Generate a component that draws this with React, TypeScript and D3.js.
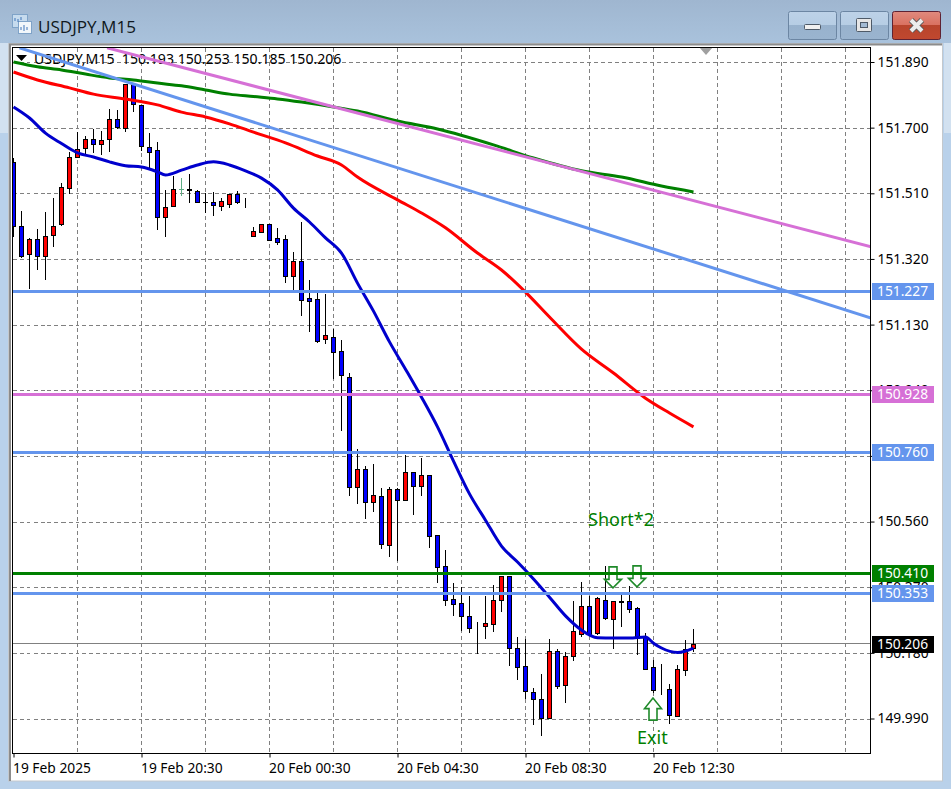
import React, { useEffect, useRef } from "react";
import * as d3 from "d3";

// USDJPY M15 candles, one entry per bar
const opens = [
  151.601, 151.415, 151.334, 151.378, 151.328, 151.389, 151.421, 151.525, 151.615, 151.641,
  151.667, 151.653, 151.667, 151.725, 151.699, 151.826, 151.766, 151.644, 151.635, 151.441,
  151.473, 151.522, 151.521, 151.517, 151.485, 151.485, 151.473, 151.479, 151.508, 151.486,
  151.386, 151.398, 151.421, 151.381, 151.378, 151.271, 151.314, 151.206, 151.203, 151.087,
  151.095, 151.054, 150.979, 150.66, 150.711, 150.616, 150.633, 150.491, 150.653, 150.623,
  150.702, 150.662, 150.694, 150.52, 150.43, 150.335, 150.323, 150.288, 150.256, 150.258,
  150.264, 150.332, 150.401, 150.193, 150.141, 150.068, 150.045, 149.992, 150.184, 150.088,
  150.172, 150.235, 150.315, 150.238, 150.332, 150.277, 150.329, 150.329, 150.309, 150.227,
  150.138, 150.076, 150.074, 149.998, 150.129, 150.193,
];
const highs = [
  151.615, 151.462, 151.383, 151.41, 151.459, 151.499, 151.543, 151.632, 151.69, 151.679,
  151.699, 151.693, 151.757, 151.754, 151.826, 151.826, 151.766, 151.687, 151.661, 151.522,
  151.563, 151.557, 151.569, 151.521, 151.514, 151.517, 151.499, 151.511, 151.52, 151.499,
  151.415, 151.423, 151.423, 151.412, 151.392, 151.343, 151.43, 151.262, 151.233, 151.221,
  151.12, 151.088, 150.993, 150.773, 150.724, 150.729, 150.66, 150.663, 150.661, 150.755,
  150.706, 150.748, 150.695, 150.524, 150.482, 150.384, 150.373, 150.347, 150.272, 150.347,
  150.379, 150.405, 150.405, 150.23, 150.223, 150.08, 150.121, 150.222, 150.193, 150.184,
  150.333, 150.388, 150.347, 150.345, 150.434, 150.333, 150.358, 150.376, 150.317, 150.239,
  150.162, 150.15, 150.093, 150.148, 150.22, 150.253,
];
const lows = [
  151.386, 151.326, 151.236, 151.291, 151.262, 151.357, 151.418, 151.511, 151.614, 151.627,
  151.63, 151.624, 151.632, 151.699, 151.69, 151.748, 151.635, 151.583, 151.407, 151.386,
  151.473, 151.505, 151.485, 151.484, 151.456, 151.447, 151.462, 151.47, 151.482, 151.47,
  151.386, 151.398, 151.375, 151.363, 151.253, 151.233, 151.158, 151.112, 151.08, 151.077,
  150.975, 150.825, 150.637, 150.614, 150.571, 150.591, 150.484, 150.461, 150.449, 150.622,
  150.582, 150.637, 150.487, 150.386, 150.318, 150.289, 150.246, 150.24, 150.179, 150.224,
  150.244, 150.301, 150.145, 150.103, 150.05, 149.974, 149.942, 149.991, 150.079, 150.038,
  150.159, 150.23, 150.232, 150.234, 150.277, 150.195, 150.258, 150.297, 150.177, 150.132,
  150.066, 150.061, 149.978, 149.997, 150.117, 150.185,
];
const closes = [
  151.415, 151.328, 151.378, 151.328, 151.386, 151.415, 151.528, 151.615, 151.638, 151.667,
  151.653, 151.664, 151.725, 151.702, 151.826, 151.767, 151.647, 151.63, 151.441, 151.47,
  151.522, 151.522, 151.519, 151.485, 151.485, 151.477, 151.488, 151.508, 151.485, 151.484,
  151.401, 151.421, 151.375, 151.369, 151.271, 151.314, 151.201, 151.199, 151.083, 151.099,
  151.05, 150.984, 150.659, 150.712, 150.616, 150.636, 150.494, 150.653, 150.623, 150.702,
  150.662, 150.694, 150.519, 150.429, 150.334, 150.322, 150.287, 150.253, 150.254, 150.265,
  150.332, 150.401, 150.193, 150.14, 150.071, 150.047, 149.992, 150.184, 150.085, 150.17,
  150.242, 150.315, 150.235, 150.338, 150.28, 150.329, 150.327, 150.306, 150.224, 150.134,
  150.073, 150.074, 149.999, 150.132, 150.192, 150.206,
];

// moving averages, read at these bars
const fastBars = [0, 2, 4, 6, 8, 10, 12, 14, 16, 18, 19, 21, 23, 25, 27, 29, 31, 33, 35, 37, 39, 41, 43, 45, 47, 49, 51, 53, 55, 57, 59, 61, 63, 65, 67, 69, 71, 73, 75, 77, 79, 80, 81, 83, 85];
const fastMa = [
  151.76, 151.728, 151.684, 151.654, 151.627, 151.615, 151.601, 151.59, 151.586, 151.572, 151.563,
  151.577, 151.592, 151.601, 151.592, 151.575, 151.554, 151.52, 151.467, 151.427, 151.381, 151.337,
  151.25, 151.169, 151.08, 151.001, 150.92, 150.834, 150.735, 150.64, 150.564, 150.489, 150.443,
  150.394, 150.341, 150.287, 150.246, 150.224, 150.223, 150.223, 150.226, 150.208, 150.194, 150.181, 150.194,
];
const midBars = [0, 3, 7, 10, 14, 18, 21, 24, 27, 30, 34, 38, 41, 43, 48, 51, 54, 58, 61, 64, 67, 71, 75, 79, 82, 85];
const midMa = [
  151.861, 151.838, 151.815, 151.797, 151.783, 151.766, 151.745, 151.731, 151.711, 151.687, 151.656, 151.618, 151.592,
  151.557, 151.491, 151.453, 151.41, 151.337, 151.288, 151.224, 151.152, 151.059, 150.99, 150.917, 150.874, 150.834,
];
const slowBars = [0, 3, 6, 9, 12, 15, 18, 21, 24, 27, 30, 33, 36, 40, 43, 48, 53, 60, 65, 71, 76, 81, 85];
const slowMa = [
  151.89, 151.876, 151.867, 151.855, 151.844, 151.838, 151.829, 151.821, 151.809, 151.797, 151.79, 151.783,
  151.774, 151.76, 151.748, 151.719, 151.696, 151.65, 151.612, 151.575, 151.557, 151.531, 151.514,
];

// trend lines: bar, price at both ends
const pinkTrendBars = [11.7, 107.2];
const pinkTrendPrices = [151.931, 151.355];
const blueTrendBars = [0.75, 107.2];
const blueTrendPrices = [151.931, 151.149];

// horizontal levels with their tag on the price axis
const levelPrices = [151.227, 150.928, 150.76, 150.41, 150.353];
const levelKinds = ["blue", "pink", "blue", "green", "blue"];
const lastPrice = 150.206;

const priceTicks = [151.89, 151.7, 151.51, 151.32, 151.13, 150.94, 150.75, 150.56, 150.37, 150.18, 149.99];
const gridBars = [8, 16, 24, 32, 40, 48, 56, 64, 72, 80, 88, 96, 104];
const timeBars = [0, 16, 32, 48, 64, 80];
const timeLabels = ["19 Feb 2025", "19 Feb 20:30", "20 Feb 00:30", "20 Feb 04:30", "20 Feb 08:30", "20 Feb 12:30"];

// arrow objects placed on the chart: bar, tip price
const downArrowBars = [75, 78];
const downArrowPrices = [150.368, 150.371];
const upArrowBars = [80];
const upArrowPrices = [150.049];

const colors: Record<string, string> = {
  blue: "#6495ed",
  pink: "#d670d6",
  green: "#008000",
};
const FONT = "'Noto Sans', sans-serif";

const App: React.FC = () => {
  const svgRef = useRef<SVGSVGElement | null>(null);

  useEffect(() => {
    if (!svgRef.current) return;
    const svg = d3.select(svgRef.current);
    svg.selectAll("*").remove();

    const left = 12.5;
    const right = 870.5;
    const top = 47.5;
    const bottom = 753.5;

    const x = d3.scaleLinear().domain([0, 1]).range([13.5, 21.5]);
    const y = d3.scaleLinear().domain([151.89, 149.99]).range([62, 718.5]);

    const defs = svg.append("defs");
    const gradient = (id: string, stops: [number, string][]) => {
      const g = defs.append("linearGradient").attr("id", id).attr("x1", 0).attr("x2", 0).attr("y1", 0).attr("y2", 1);
      stops.forEach(([o, c]) => g.append("stop").attr("offset", o).attr("stop-color", c));
    };
    gradient("titleBar", [[0, "#9fb6d0"], [1, "#a9c2dc"]]);
    gradient("btn", [[0, "#bdd2e8"], [0.5, "#b6cde4"], [0.5, "#98b2cd"], [1, "#9ab4cf"]]);
    gradient("closeBtn", [[0, "#e08a7e"], [0.5, "#d9705f"], [0.5, "#b8442c"], [1, "#c0482f"]]);
    defs.append("clipPath").attr("id", "plot").append("rect")
      .attr("x", left).attr("y", top).attr("width", right - left).attr("height", bottom - top);

    // window chrome
    svg.append("rect").attr("width", 951).attr("height", 789).attr("fill", "#b9d1ea");
    svg.append("rect").attr("width", 951).attr("height", 43).attr("fill", "url(#titleBar)");
    svg.append("rect").attr("y", 43).attr("width", 8).attr("height", 90).attr("fill", "#d2e1f0");
    svg.append("rect").attr("x", 944).attr("y", 43).attr("width", 7).attr("height", 90).attr("fill", "#d2e1f0");
    svg.append("rect").attr("x", 8.5).attr("y", 43.5).attr("width", 934).attr("height", 737.5)
      .attr("fill", "#fff").attr("stroke", "#c4c8cc");
    svg.append("path").attr("d", "M10,781V44.5H942").attr("fill", "none").attr("stroke", "#8c8c8c").attr("stroke-width", 2);

    // title icon
    const icon = svg.append("g");
    icon.append("rect").attr("x", 12.5).attr("y", 14.5).attr("width", 15).attr("height", 13)
      .attr("fill", "#c6dbee").attr("stroke", "#7fa3c8");
    icon.append("rect").attr("x", 18.5).attr("y", 21.5).attr("width", 13).attr("height", 12)
      .attr("fill", "#f2f7fb").attr("stroke", "#7fa3c8");
    icon.append("path").attr("d", "M21,30V27M24,31V25M27,30V27").attr("stroke", "#3f74b8");
    icon.append("path").attr("d", "M15,21V18M18,22V19M21,20V17").attr("stroke", "#3f74b8");
    svg.append("text").attr("x", 38).attr("y", 33).attr("font-family", "'Open Sans', sans-serif")
      .attr("font-size", 17.1).attr("fill", "#101820").text("USDJPY,M15");

    // window buttons
    const button = (bx: number, fill: string, stroke: string) =>
      svg.append("rect").attr("x", bx + 0.5).attr("y", 11.5).attr("width", 48).attr("height", 28).attr("rx", 2)
        .attr("fill", fill).attr("stroke", stroke);
    button(788, "url(#btn)", "#6c86a3");
    button(840, "url(#btn)", "#6c86a3");
    button(892, "url(#closeBtn)", "#5e2233");
    svg.append("rect").attr("x", 804.5).attr("y", 24.5).attr("width", 16).attr("height", 5).attr("rx", 1)
      .attr("fill", "#f0f0f0").attr("stroke", "#4e5a68");
    svg.append("rect").attr("x", 856.5).attr("y", 18.5).attr("width", 15).attr("height", 13).attr("rx", 1)
      .attr("fill", "#e6e6e6").attr("stroke", "#4e5a68");
    svg.append("rect").attr("x", 860.5).attr("y", 22.5).attr("width", 7).attr("height", 5)
      .attr("fill", "#a3bbd4").attr("stroke", "#4e5a68");
    svg.append("path").attr("d", "M911,20L922,31M922,20L911,31").attr("stroke", "#5a5a5a").attr("stroke-width", 6);
    svg.append("path").attr("d", "M911,20L922,31M922,20L911,31").attr("stroke", "#ececec").attr("stroke-width", 4);

    // grid
    const grid = svg.append("g").attr("stroke", "#808080").attr("stroke-dasharray", "4 3").attr("shape-rendering", "crispEdges");
    grid.selectAll("line.h").data(priceTicks).join("line").attr("class", "h")
      .attr("x1", left).attr("x2", right).attr("y1", d => Math.round(y(d)) + 0.5).attr("y2", d => Math.round(y(d)) + 0.5);
    grid.selectAll("line.v").data(gridBars).join("line").attr("class", "v")
      .attr("x1", d => x(d)).attr("x2", d => x(d)).attr("y1", top).attr("y2", bottom);

    // last price line
    svg.append("line").attr("x1", left).attr("x2", right).attr("y1", Math.round(y(lastPrice)) - 0.5).attr("y2", Math.round(y(lastPrice)) - 0.5)
      .attr("stroke", "#808080").attr("shape-rendering", "crispEdges");

    // header
    svg.append("path").attr("d", "M16,55H27L21.5,61Z").attr("fill", "#000");
    svg.append("text").attr("x", 34).attr("y", 64).attr("font-family", FONT).attr("font-size", 14.1)
      .attr("fill", "#000").attr("xml:space", "preserve")
      .text(`USDJPY,M15  ${opens[85].toFixed(3)} ${highs[85].toFixed(3)} ${lows[85].toFixed(3)} ${closes[85].toFixed(3)}`);
    svg.append("path").attr("d", "M699,47H713L706,55Z").attr("fill", "#a0a0a0");

    const plot = svg.append("g").attr("clip-path", "url(#plot)");

    // candles
    const candles = plot.append("g").attr("shape-rendering", "crispEdges");
    const idx = d3.range(opens.length);
    const snap = (p: number) => Math.round(y(p)) + 0.5;
    const mutedBar = 21; // this doji is drawn pale green in the terminal
    candles.selectAll("line.wick").data(idx).join("line").attr("class", "wick")
      .attr("x1", i => x(i)).attr("x2", i => x(i))
      .attr("y1", i => snap(highs[i])).attr("y2", i => snap(lows[i]))
      .attr("stroke", i => (i === mutedBar ? "#5fae85" : "#000"));
    candles.selectAll("line.doji").data(idx.filter(i => opens[i] === closes[i])).join("line").attr("class", "doji")
      .attr("x1", i => x(i) - 2.5).attr("x2", i => x(i) + 2.5)
      .attr("y1", i => snap(closes[i])).attr("y2", i => snap(closes[i]))
      .attr("stroke", i => (i === mutedBar ? "#5fae85" : "#000"));
    candles.selectAll("rect").data(idx.filter(i => opens[i] !== closes[i])).join("rect")
      .attr("x", i => x(i) - 2).attr("width", 4)
      .attr("y", i => snap(Math.max(opens[i], closes[i])))
      .attr("height", i => snap(Math.min(opens[i], closes[i])) - snap(Math.max(opens[i], closes[i])))
      .attr("fill", i => (closes[i] > opens[i] ? "#ff0000" : "#0000ff"))
      .attr("stroke", "#000");

    // arrow objects
    const arrows = plot.append("g").attr("fill", "#fff").attr("stroke", "#1f8a2a").attr("stroke-width", 1.6);
    arrows.selectAll("path.down").data(downArrowBars).join("path").attr("class", "down")
      .attr("d", (b, k) => {
        const cx = x(b) - 0.5;
        const tip = y(downArrowPrices[k]);
        return `M${cx},${tip}L${cx - 8.5},${tip - 8.5}H${cx - 4}V${tip - 21}H${cx + 4}V${tip - 8.5}H${cx + 8.5}Z`;
      });
    arrows.selectAll("path.up").data(upArrowBars).join("path").attr("class", "up")
      .attr("d", (b, k) => {
        const cx = x(b) - 0.5;
        const tip = y(upArrowPrices[k]);
        return `M${cx},${tip}L${cx - 8.5},${tip + 10.5}H${cx - 4}V${tip + 22}H${cx + 4}V${tip + 10.5}H${cx + 8.5}Z`;
      });

    // labels on the chart
    plot.append("text").attr("x", x(72) - 1.5).attr("y", y(150.547)).attr("font-family", FONT).attr("font-size", 18)
      .attr("fill", "#008000").text("Short*2");
    plot.append("text").attr("x", x(78) - 0.5).attr("y", y(149.916)).attr("font-family", FONT).attr("font-size", 18)
      .attr("fill", "#008000").text("Exit");

    // moving averages
    const line = d3.line<[number, number]>().x(d => x(d[0])).y(d => y(d[1])).curve(d3.curveMonotoneX);
    const drawSeries = (bars: number[], values: number[], color: string, width: number) =>
      plot.append("path").attr("d", line(bars.map((b, k) => [b, values[k]] as [number, number])))
        .attr("fill", "none").attr("stroke", color).attr("stroke-width", width);
    drawSeries(slowBars, slowMa, "#008000", 3);
    drawSeries(midBars, midMa, "#ff0000", 3);
    drawSeries(fastBars, fastMa, "#0000cd", 3);

    // trend lines
    drawSeries(pinkTrendBars, pinkTrendPrices, colors.pink, 3);
    drawSeries(blueTrendBars, blueTrendPrices, colors.blue, 3);

    // horizontal levels
    plot.selectAll("line.level").data(levelPrices).join("line").attr("class", "level")
      .attr("x1", left).attr("x2", right).attr("y1", d => y(d)).attr("y2", d => y(d))
      .attr("stroke", (_, k) => colors[levelKinds[k]]).attr("stroke-width", 3).attr("shape-rendering", "crispEdges");

    // frame
    svg.append("rect").attr("x", left).attr("y", top).attr("width", right - left).attr("height", bottom - top)
      .attr("fill", "none").attr("stroke", "#000").attr("shape-rendering", "crispEdges");

    // price axis
    const priceAxis = d3.axisRight(y).tickValues(priceTicks).tickSize(4).tickPadding(3).tickFormat(d3.format(".3f") as any);
    const pg = svg.append("g").attr("transform", `translate(${right},0)`).call(priceAxis);
    pg.select(".domain").remove();
    pg.selectAll("text").attr("font-family", FONT).attr("font-size", 13.8).attr("fill", "#000");
    pg.selectAll("line").attr("stroke", "#000");

    // time axis
    const timeAxis = d3.axisBottom(x).tickValues(timeBars).tickSize(4).tickPadding(6)
      .tickFormat((_, k) => timeLabels[k]);
    const tg = svg.append("g").attr("transform", `translate(0,${bottom})`).call(timeAxis);
    tg.select(".domain").remove();
    tg.selectAll("text").attr("font-family", FONT).attr("font-size", 13.8).attr("fill", "#000")
      .attr("text-anchor", "start").attr("dx", -1);
    tg.selectAll("line").attr("stroke", "#000");

    // price tags
    const tagPrices = [...levelPrices, lastPrice];
    const tagFill = (k: number) => (k < levelPrices.length ? colors[levelKinds[k]] : "#000");
    const tags = svg.append("g");
    tags.selectAll("rect").data(tagPrices).join("rect")
      .attr("x", 872).attr("width", 62).attr("height", 17)
      .attr("y", d => Math.round(y(d)) - 8)
      .attr("fill", (_, k) => tagFill(k));
    tags.selectAll("text").data(tagPrices).join("text")
      .attr("x", 877).attr("y", d => y(d)).attr("dy", "0.36em")
      .attr("font-family", FONT).attr("font-size", 13.8).attr("fill", "#fff")
      .text(d => d.toFixed(3));
  }, []);

  return <svg ref={svgRef} width={951} height={789} style={{ position: "absolute", left: 0, top: 0, display: "block" }} />;
};

export default App;
